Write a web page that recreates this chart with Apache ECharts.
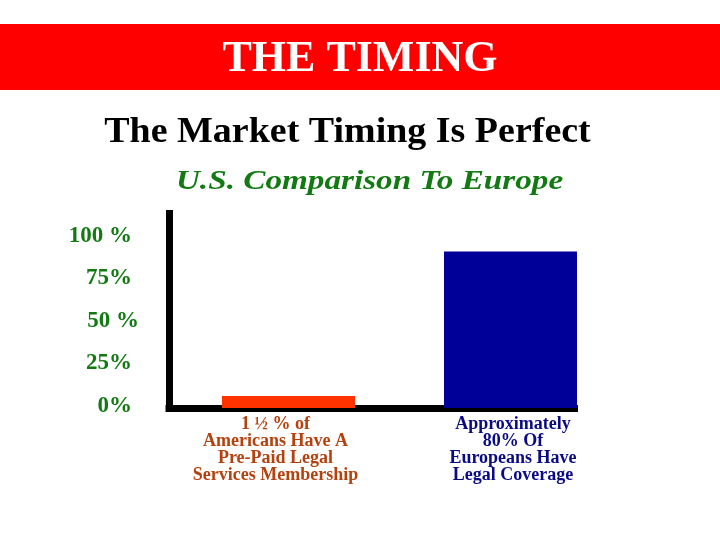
<!DOCTYPE html>
<html>
<head>
<meta charset="utf-8">
<script src="https://cdn.jsdelivr.net/npm/echarts@6/dist/echarts.min.js"></script>
<style>html,body{margin:0;padding:0;background:#fff}#c{width:720px;height:540px}</style>
</head>
<body>
<div id="c"></div>
<script>
const categories = ['1 ½ % of\nAmericans Have A\nPre-Paid Legal\nServices Membership', 'Approximately\n80% Of\nEuropeans Have\nLegal Coverage'];
const values = [7, 92];
const tickLabels = ['0%', '25%', '50 %', '75%', '100 %'];
const barColors = ['#ff3300', '#000099'];
const labelColors = ['#b5410f', '#0a0a85'];

const serif = '"Liberation Serif", "Times New Roman", serif';
const chart = echarts.init(document.getElementById('c'));
const yMax = 114.4;
chart.setOption({
  animation: false,
  backgroundColor: '#ffffff',
  graphic: [
    { type: 'rect', z: -1, shape: { x: 0, y: 24, width: 720, height: 66 },
      style: { fill: '#ff0000' }, silent: true },
    { type: 'text', x: 347.5, y: 133, scaleX: 1.085, z: 10,
      style: { text: 'The Market Timing Is Perfect', fill: '#000000', font: 'bold 35px ' + serif, textAlign: 'center', textVerticalAlign: 'middle' } },
    { type: 'text', x: 369.5, y: 182, scaleX: 1.23, z: 10,
      style: { text: 'U.S. Comparison To Europe', fill: '#137a13', font: 'italic bold 27px ' + serif, textAlign: 'center', textVerticalAlign: 'middle' } }
  ],
  title: [
    { text: 'THE TIMING', left: 360, textAlign: 'center', top: 38, padding: 0,
      textStyle: { color: '#ffffff', fontFamily: serif, fontWeight: 'bold', fontSize: 44, lineHeight: 44 } }
  ],
  grid: [
    { left: 169, right: 145.5, top: 213.5, bottom: 132 },
    { left: 177.5, right: 98.5, top: 213.5, bottom: 132 }
  ],
  xAxis: [
    { gridIndex: 0, type: 'value', min: 0, max: 1,
      axisLine: { show: true, onZero: false, lineStyle: { color: '#000', width: 7, cap: 'square' } },
      axisTick: { show: false }, axisLabel: { show: false }, splitLine: { show: false } },
    { gridIndex: 1, type: 'category', data: categories,
      axisLine: { show: false }, axisTick: { show: false }, splitLine: { show: false },
      axisLabel: {
        interval: 0, margin: 8,
        formatter: function (v, i) { const k = i === 0 ? 'a' : 'b'; return v.split('\n').map(s => '{' + k + '|' + s + '}').join('\n'); },
        rich: {
          a: { color: labelColors[0], fontFamily: serif, fontWeight: 'bold', fontSize: 18, lineHeight: 17, padding: [0, 26, 0, 0] },
          b: { color: labelColors[1], fontFamily: serif, fontWeight: 'bold', fontSize: 18, lineHeight: 17, padding: [0, 0, 0, 5] }
        }
      } }
  ],
  yAxis: [
    { gridIndex: 0, type: 'value', min: 0, max: yMax, interval: 25,
      axisLine: { show: true, lineStyle: { color: '#000', width: 7, cap: 'square' } },
      axisTick: { show: false }, splitLine: { show: false },
      axisLabel: {
        showMaxLabel: false, margin: 30,
        formatter: function (v) { const t = tickLabels[Math.round(v / 25)]; return t === '50 %' ? '{q|' + t + '}' : '{p|' + t + '}'; },
        rich: {
          p: { color: '#137a13', fontFamily: serif, fontWeight: 'bold', fontSize: 23, padding: [0, 7, 4, 0] },
          q: { color: '#137a13', fontFamily: serif, fontWeight: 'bold', fontSize: 23, padding: [0, 0, 4, 0] }
        }
      } },
    { gridIndex: 1, type: 'value', min: 0, max: yMax, interval: 25, show: false, splitLine: { show: false } }
  ],
  series: [{
    type: 'bar', xAxisIndex: 1, yAxisIndex: 1, barWidth: 133,
    data: values.map((v, i) => ({ value: v, itemStyle: { color: barColors[i] } }))
  }]
});
</script>
</body>
</html>
